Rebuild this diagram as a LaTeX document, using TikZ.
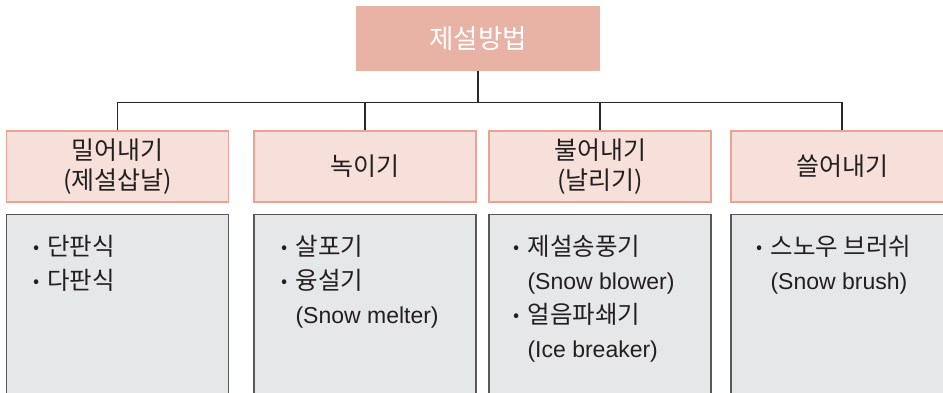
\documentclass[tikz,border=0pt]{standalone}
\usepackage{fontspec}
\setmainfont{Noto Sans CJK KR}
\newfontfamily\latn{Liberation Sans}
\definecolor{topfill}{RGB}{232,178,165}
\definecolor{catfill}{RGB}{246,224,217}
\definecolor{catline}{RGB}{234,162,148}
\definecolor{boxfill}{RGB}{230,231,232}
\definecolor{boxline}{RGB}{88,88,90}
\definecolor{txt}{RGB}{35,31,32}
\definecolor{conn}{RGB}{40,40,40}
\tikzset{
  topbox/.style={rectangle, fill=topfill, draw=none, minimum width=244pt, minimum height=65pt, inner sep=0pt,
    text=white, font=\fontsize{26.5}{30}\selectfont},
  catbox/.style={rectangle, fill=catfill, draw=catline, line width=1.2pt, minimum width=222pt, minimum height=71pt,
    inner sep=0pt, text=txt, align=center, font=\fontsize{25}{30}\selectfont},
  listbox/.style={rectangle, fill=boxfill, draw=boxline, line width=1.3pt, minimum width=222pt, minimum height=200pt,
    inner sep=0pt, anchor=north},
  listtext/.style={anchor=north west, inner sep=0pt, align=left, text=txt, font=\fontsize{24.5}{34}\selectfont},
  conline/.style={draw=conn, line width=1.2pt}
}
\newcommand{\bl}{\makebox[14pt][l]{\raisebox{2.2pt}{\fontsize{18}{18}\selectfont •}}}
\newcommand{\en}[1]{\hspace*{14pt}{\latn\fontsize{23}{34}\selectfont #1}}
\begin{document}
\begin{tikzpicture}[x=1pt,y=-1pt]
\useasboundingbox (0,0) rectangle (943,393);
\clip (0,0) rectangle (943,393);
\fill[white] (0,0) rectangle (943,393);
\node[topbox] (top) at (478,38.5) {제설방법};
\node[catbox] (c1) at (117.5,166.5) {밀어내기\\(제설삽날)};
\node[catbox] (c2) at (365,166.5) {녹이기};
\node[catbox] (c3) at (600,166.5) {불어내기\\(날리기)};
\node[catbox] (c4) at (842,166.5) {쓸어내기};
\node[listbox] (d1) at (117.5,214) {};
\node[listbox] (d2) at (365,214) {};
\node[listbox] (d3) at (600,214) {};
\node[listbox] (d4) at (842,214) {};
\node[listtext] (t1) at ([xshift=27pt,yshift=-21pt]d1.north west) {\bl 단판식\\\bl 다판식};
\node[listtext] (t2) at ([xshift=28pt,yshift=-21pt]d2.north west) {\bl 살포기\\\bl 융설기\\\en{(Snow melter)}};
\node[listtext] (t3) at ([xshift=25pt,yshift=-21pt]d3.north west) {\bl 제설송풍기\\\en{(Snow blower)}\\\bl 얼음파쇄기\\\en{(Ice breaker)}};
\node[listtext] (t4) at ([xshift=26pt,yshift=-21pt]d4.north west) {\bl 스노우 브러쉬\\\en{(Snow brush)}};
\coordinate (bus) at (0,102.5);
\draw[conline] (top.south) -- (top.south |- bus);
\draw[conline] (c1.north |- bus) -- (c4.north |- bus);
\foreach \i in {1,2,3,4} { \draw[conline] (c\i.north) -- (c\i.north |- bus); }
\end{tikzpicture}
\end{document}
